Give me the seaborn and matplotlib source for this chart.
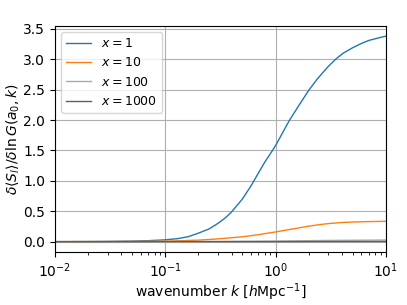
import numpy as np
import pandas as pd
import matplotlib
matplotlib.use("Agg")
import matplotlib.pyplot as plt
import seaborn as sns

# values
k_x1 = [0.01, 0.02, 0.03, 0.05, 0.07, 0.1, 0.13, 0.16, 0.2, 0.25, 0.3, 0.35, 0.4,
        0.5, 0.6, 0.7, 0.8, 0.9, 1.0, 1.15, 1.33, 1.6, 2.0, 2.4, 3.0, 3.5, 4.1,
        5.0, 6.0, 7.0, 8.5, 10.0]
resp_x1 = [0.0, 0.002, 0.004, 0.009, 0.016, 0.03, 0.05, 0.08, 0.14, 0.21, 0.3, 0.39, 0.49,
           0.7, 0.92, 1.13, 1.31, 1.45, 1.58, 1.78, 1.99, 2.22, 2.49, 2.68, 2.88, 3.0, 3.1,
           3.19, 3.26, 3.31, 3.35, 3.38]
k_x10 = [0.01, 0.03, 0.05, 0.1, 0.2, 0.3, 0.5, 0.7, 1.0, 1.5, 2.0, 2.5, 3.0, 4.0, 5.0, 7.0, 10.0]
resp_x10 = [0.0, 0.001, 0.003, 0.008, 0.025, 0.045, 0.08, 0.115, 0.16, 0.215, 0.255, 0.28,
            0.297, 0.315, 0.323, 0.33, 0.335]
k_x100 = [0.01, 0.1, 0.3, 1.0, 3.0, 10.0]
resp_x100 = [0.0, 0.001, 0.003, 0.01, 0.02, 0.027]
k_x1000 = [0.01, 1.0, 10.0]
resp_x1000 = [0.0, 0.001, 0.003]

labels = ["$x=1$", "$x=10$", "$x=100$", "$x=1000$"]
colors = ["#1f77b4", "#ff7f0e", "#ababab", "#5f5f5f"]

rows = []
for lab, ks, vals in zip(labels, [k_x1, k_x10, k_x100, k_x1000],
                         [resp_x1, resp_x10, resp_x100, resp_x1000]):
    for kk, v in zip(ks, vals):
        rows.append({"k": kk, "resp": v, "x": lab})
df = pd.DataFrame(rows)

fig, ax = plt.subplots(figsize=(4.07, 3.05), dpi=100)
sns.lineplot(data=df, x="k", y="resp", hue="x", hue_order=labels,
             palette=dict(zip(labels, colors)), linewidth=1.0, ax=ax)
ax.set_xscale("log")
ax.set_xlim(0.01, 10)
ax.grid(True, color="#b0b0b0", linewidth=0.8)
ax.set_xlabel(r"wavenumber $k$ [$h$Mpc$^{-1}$]", fontsize=10, labelpad=1)
ax.set_ylabel(r"$\delta\langle S_l\rangle/\delta\ln G(a_0,k)$", fontsize=10, labelpad=1)
ax.tick_params(labelsize=10)
ax.legend(loc="upper left", fontsize=9)
fig.subplots_adjust(left=0.135, right=0.948, bottom=0.174, top=0.915)
fig.savefig("out.png")
